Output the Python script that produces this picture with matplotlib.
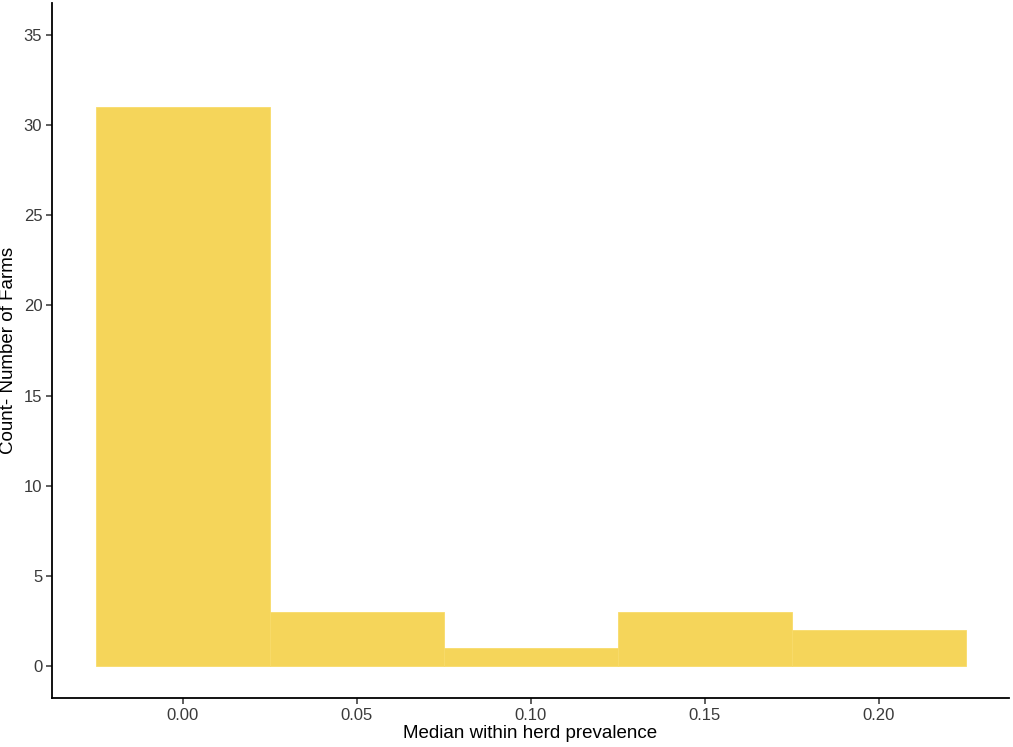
import matplotlib
matplotlib.use("Agg")
import matplotlib.pyplot as plt
import numpy as np

plt.rcParams['font.family'] = ['Liberation Sans', 'DejaVu Sans']

# histogram bins (centres at 0.00, 0.05, ...) and counts
bin_edges = [-0.025, 0.025, 0.075, 0.125, 0.175, 0.225]
counts = [31, 3, 1, 3, 2]
x_ticks = [0.00, 0.05, 0.10, 0.15, 0.20]
x_tick_labels = ['0.00', '0.05', '0.10', '0.15', '0.20']
y_ticks = [0, 5, 10, 15, 20, 25, 30, 35]

fig = plt.figure(figsize=(10.13, 7.47), dpi=100)
ax = fig.add_axes([52 / 1013, 49 / 747, 957 / 1013, 695 / 747])

edges = np.array(bin_edges)
ax.bar(edges[:-1], counts, width=np.diff(edges), align='edge',
       color='#F5D55A', edgecolor='#F8DB6A', linewidth=0.6)

ax.set_xlim(-0.0375, 0.2375)
ax.set_ylim(-1.75, 36.75)
ax.set_xticks(x_ticks)
ax.set_xticklabels(x_tick_labels)
ax.set_yticks(y_ticks)

for s in ['top', 'right']:
    ax.spines[s].set_visible(False)
for s in ['left', 'bottom']:
    ax.spines[s].set_linewidth(1.3)
    ax.spines[s].set_color('black')

ax.tick_params(axis='both', length=4, width=1.1, color='#333333',
               labelsize=12, labelcolor='#3a3a3a', pad=3)

ax.set_xlabel('Median within herd prevalence', fontsize=13.5, labelpad=2)
ax.set_ylabel('Count- Number of Farms', fontsize=13.5, labelpad=5)

fig.savefig('out.png', dpi=100)
